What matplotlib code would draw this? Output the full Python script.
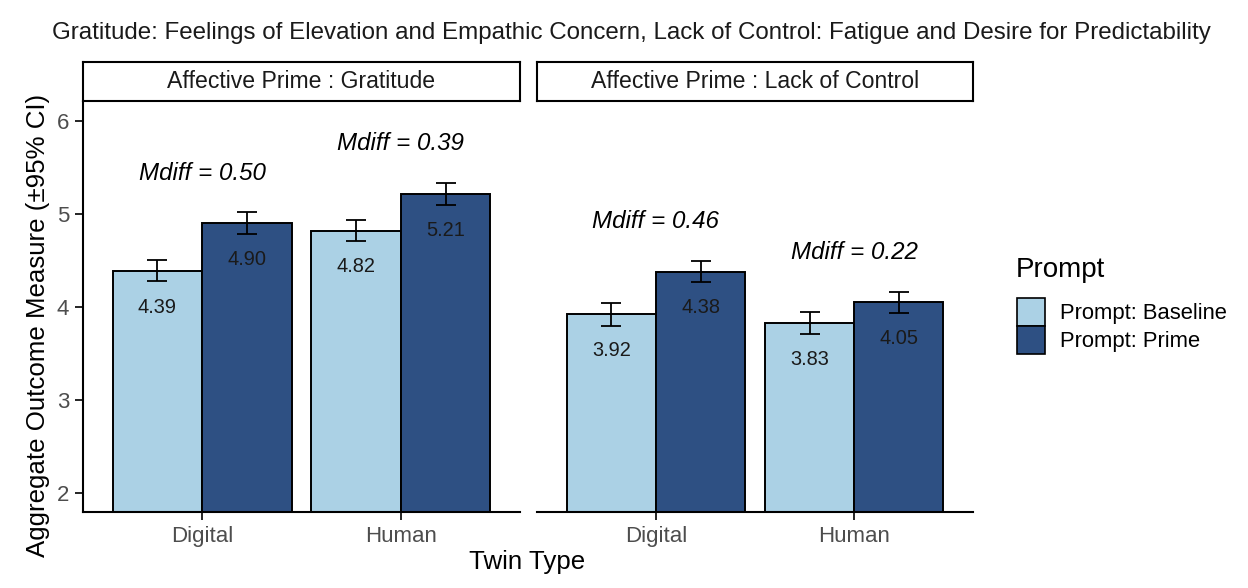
import numpy as np
import matplotlib.pyplot as plt
from matplotlib.patches import Patch

plt.rcParams['font.family'] = ['Liberation Sans', 'DejaVu Sans']

# data: mean outcome (and 95% CI half-width) per affective prime and twin type
twin_types = ['Digital', 'Human']
primes = ['Gratitude', 'Lack of Control']
baseline_mean = [[4.39, 4.82], [3.92, 3.83]]
prime_mean = [[4.90, 5.21], [4.38, 4.05]]
baseline_ci = [[0.115, 0.115], [0.12, 0.12]]
prime_ci = [[0.115, 0.12], [0.115, 0.115]]
mdiff = [[0.50, 0.39], [0.46, 0.22]]

light = '#abd1e5'
dark = '#2e5083'
gray = '#4d4d4d'

W, H = 1248, 588
fig = plt.figure(figsize=(W / 100, H / 100), dpi=100)


def px_axes(x0, y0, x1, y1):
    return fig.add_axes([x0 / W, 1 - y1 / H, (x1 - x0) / W, (y1 - y0) / H])


panels = [(83, 520), (537, 973)]
bw = 0.45
x = np.arange(len(twin_types))

for i, (x0, x1) in enumerate(panels):
    ax = px_axes(x0, 102, x1, 512)
    b = np.array(baseline_mean[i])
    p = np.array(prime_mean[i])
    bc = np.array(baseline_ci[i])
    pc = np.array(prime_ci[i])
    ax.bar(x - bw / 2, b, bw, bottom=0, color=light, edgecolor='black', linewidth=1.4, zorder=2)
    ax.bar(x + bw / 2, p, bw, bottom=0, color=dark, edgecolor='black', linewidth=1.4, zorder=2)
    ax.errorbar(x - bw / 2, b, yerr=bc, fmt='none', ecolor='black', elinewidth=1.3,
                capsize=7.5, capthick=1.3, zorder=3)
    ax.errorbar(x + bw / 2, p, yerr=pc, fmt='none', ecolor='black', elinewidth=1.3,
                capsize=7.5, capthick=1.3, zorder=3)
    for j in range(len(twin_types)):
        ax.text(x[j] - bw / 2, b[j] - 0.39, f'{b[j]:.2f}', ha='center', va='center',
                fontsize=14.4, color='#1a1a1a', zorder=4)
        ax.text(x[j] + bw / 2, p[j] - 0.39, f'{p[j]:.2f}', ha='center', va='center',
                fontsize=14.4, color='#1a1a1a', zorder=4)
        top = max(b[j] + bc[j], p[j] + pc[j])
        ax.text(x[j], top + 0.42, f'Mdiff = {mdiff[i][j]:.2f}', ha='center', va='center',
                fontsize=17.4, style='italic', color='black')
    ax.set_xlim(-0.6, 1.6)
    ax.set_ylim(1.8, 6.2)
    ax.set_xticks(x)
    ax.set_xticklabels(twin_types, fontsize=16, color=gray)
    ax.tick_params(axis='x', length=6, width=1.2, pad=4)
    for s in ['top', 'right']:
        ax.spines[s].set_visible(False)
    ax.spines['bottom'].set_linewidth(1.5)
    if i == 0:
        ax.set_yticks([2, 3, 4, 5, 6])
        ax.set_yticklabels(['2', '3', '4', '5', '6'], fontsize=16, color=gray)
        ax.tick_params(axis='y', length=6, width=1.2, pad=4)
        ax.spines['left'].set_linewidth(1.5)
    else:
        ax.spines['left'].set_visible(False)
        ax.set_yticks([])

    # facet strip
    st = px_axes(x0, 62, x1, 101)
    st.set_xticks([])
    st.set_yticks([])
    for s in st.spines.values():
        s.set_linewidth(1.5)
    st.text(0.5, 0.5, f'Affective Prime : {primes[i]}', ha='center', va='center',
            fontsize=16.6, color='#1a1a1a', transform=st.transAxes)

fig.text(631 / W, 1 - 33 / H,
         'Gratitude: Feelings of Elevation and Empathic Concern, Lack of Control: Fatigue and Desire for Predictability',
         ha='center', va='center', fontsize=17.4, color='#1a1a1a')
fig.text(38 / W, 1 - 325 / H, 'Aggregate Outcome Measure (±95% CI)', rotation=90,
         ha='center', va='center', fontsize=18.6)
fig.text(527 / W, 1 - 562 / H, 'Twin Type', ha='center', va='center', fontsize=18.6)

# legend: title drawn separately so the gap above the keys can be set
fig.text(1016 / W, 1 - 270 / H, 'Prompt', ha='left', va='center', fontsize=20)
handles = [Patch(facecolor=light, edgecolor='black', linewidth=1.2),
           Patch(facecolor=dark, edgecolor='black', linewidth=1.2)]
leg = fig.legend(handles, ['Prompt: Baseline', 'Prompt: Prime'],
                 loc='upper left', bbox_to_anchor=(997 / W, 1 - 278 / H), frameon=False,
                 fontsize=15.8, handlelength=1.28, handleheight=1.6,
                 labelspacing=0.0, handletextpad=0.7)

fig.savefig('out.png', dpi=100)
